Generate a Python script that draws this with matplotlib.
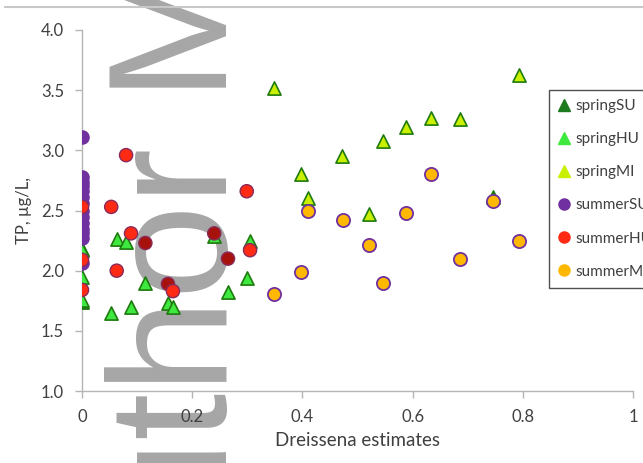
import matplotlib.pyplot as plt
from matplotlib.lines import Line2D

# Dreissena estimates (x) and TP (y) for each season / basin group
springSU_x = [0, 0, 0.746]
springSU_y = [1.74, 2.18, 2.61]

springHU_x = [0, 0, 0, 0.053, 0.063, 0.080, 0.089, 0.115, 0.156, 0.165,
              0.240, 0.265, 0.299, 0.305]
springHU_y = [1.95, 1.76, 2.17, 1.65, 2.26, 2.24, 1.70, 1.90, 1.73, 1.70,
              2.29, 1.82, 1.94, 2.25]

springMI_x = [0.348, 0.397, 0.410, 0.472, 0.521, 0.546, 0.588, 0.633, 0.686, 0.793]
springMI_y = [3.52, 2.80, 2.60, 2.95, 2.47, 3.08, 3.19, 3.27, 3.26, 3.63]

summerSU_x = [0] * 14
summerSU_y = [3.11, 2.78, 2.74, 2.70, 2.66, 2.61, 2.56, 2.50, 2.45, 2.40,
              2.35, 2.31, 2.27, 2.06]

summerHU_x = [0, 0, 0, 0.053, 0.080, 0.063, 0.089, 0.115, 0.156, 0.165,
              0.240, 0.265, 0.299, 0.305]
summerHU_y = [2.53, 2.09, 1.84, 2.53, 2.96, 2.00, 2.31, 2.23, 1.89, 1.83,
              2.31, 2.10, 2.66, 2.17]
summerHU_dark = [False, False, False, False, False, False, False, True, True, False,
                 True, True, False, False]

summerMI_x = [0.348, 0.397, 0.410, 0.474, 0.521, 0.546, 0.588, 0.633, 0.686, 0.746, 0.793]
summerMI_y = [1.81, 1.99, 2.50, 2.42, 2.21, 1.90, 2.48, 2.80, 2.10, 2.58, 2.25]

x_ticks = [0, 0.2, 0.4, 0.6, 0.8, 1]
x_ticklabels = ["0", "0.2", "0.4", "0.6", "0.8", "1"]
y_ticks = [1.0, 1.5, 2.0, 2.5, 3.0, 3.5, 4.0]

plt.rcParams['font.family'] = ['Lato', 'DejaVu Sans']

fig = plt.figure(figsize=(6.43, 4.63), dpi=100)
ax = fig.add_axes([82 / 643, 72 / 463, 551 / 643, 361 / 463])
ax.set_facecolor('none')

purple = '#7030a0'
tri_edge = '#1f7a10'
ms = 90

ax.scatter(springSU_x, springSU_y, marker='^', s=ms, color='#1e7a1e',
           edgecolors=tri_edge, linewidths=1.2, zorder=3)
ax.scatter(springHU_x, springHU_y, marker='^', s=ms, color='#3fe83f',
           edgecolors=tri_edge, linewidths=1.2, zorder=3)
ax.scatter(springMI_x, springMI_y, marker='^', s=ms, color='#c8f000',
           edgecolors=tri_edge, linewidths=1.2, zorder=3)
ax.scatter(summerSU_x, summerSU_y, marker='o', s=ms, color=purple,
           edgecolors=purple, linewidths=1.0, zorder=4)
hu_colors = ['#a8120c' if d else '#ff2a14' for d in summerHU_dark]
ax.scatter(summerHU_x, summerHU_y, marker='o', s=ms, color=hu_colors,
           edgecolors='#8a2a5a', linewidths=1.0, zorder=5)
ax.scatter(summerMI_x, summerMI_y, marker='o', s=ms, color='#ffb800',
           edgecolors=purple, linewidths=1.3, zorder=5)

ax.set_xlim(0, 1)
ax.set_ylim(1.0, 4.0)
ax.set_xticks(x_ticks)
ax.set_xticklabels(x_ticklabels)
ax.set_yticks(y_ticks)
ax.set_yticklabels(["%.1f" % v for v in y_ticks])

for side in ['top', 'right']:
    ax.spines[side].set_visible(False)
for side in ['left', 'bottom']:
    ax.spines[side].set_color('#b5b5b5')
    ax.spines[side].set_linewidth(1.0)
ax.tick_params(axis='both', direction='out', length=5, width=1.0, color='#b5b5b5',
               labelcolor='#404040', labelsize=12)
ax.tick_params(axis='x', pad=8)
ax.tick_params(axis='y', pad=8)

ax.set_xlabel("Dreissena estimates", fontsize=13.5, color='#404040', labelpad=5)
ax.set_ylabel("TP, \u00b5g/L,", fontsize=12, color='#404040', labelpad=6)

# legend hangs off the right edge
handles = [
    Line2D([], [], marker='^', ls='none', ms=8, color='#1e7a1e', label='springSU'),
    Line2D([], [], marker='^', ls='none', ms=8, color='#3fe83f', label='springHU'),
    Line2D([], [], marker='^', ls='none', ms=8, color='#c8f000', label='springMI'),
    Line2D([], [], marker='o', ls='none', ms=8, color=purple, label='summerSU'),
    Line2D([], [], marker='o', ls='none', ms=8, color='#ff2a14', label='summerHU'),
    Line2D([], [], marker='o', ls='none', ms=8, color='#ffb800', label='summerMI'),
]
leg = fig.legend(handles=handles, loc='upper left', mode='expand',
                 bbox_to_anchor=(549 / 643, 173 / 463, 0.3, 200 / 463),
                 bbox_transform=fig.transFigure,
                 fontsize=11, labelspacing=1.25, handlelength=0.8, handletextpad=0.3,
                 borderpad=0.6, borderaxespad=0, fancybox=False, framealpha=1)
leg.get_frame().set_edgecolor('#505050')
leg.get_frame().set_linewidth(1.0)
for t in leg.get_texts():
    t.set_color('#404040')

# page rule along the top
fig.add_artist(Line2D([5 / 643, 1], [456 / 463, 456 / 463], color='#c8c8c8',
                      lw=1.5, transform=fig.transFigure))

# watermark
fig.text(227 / 643, -184 / 463, "Author Manuscript", rotation=90, rotation_mode='anchor',
         ha='left', va='baseline', fontsize=122, family='Liberation Sans',
         color='#a6a6a6', zorder=-1)

fig.savefig('out.png', dpi=100)
